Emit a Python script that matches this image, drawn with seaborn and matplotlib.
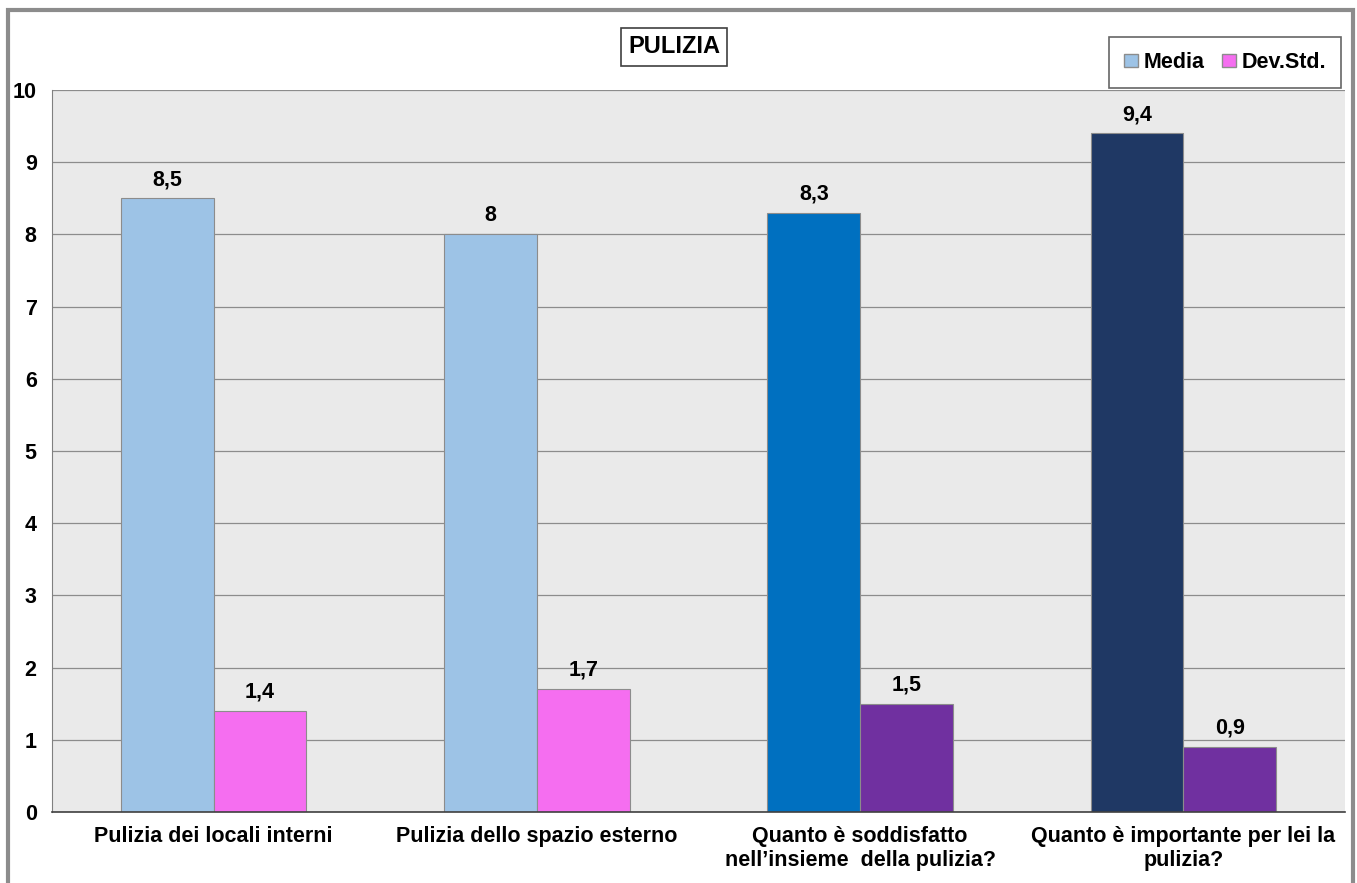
import matplotlib
matplotlib.use("Agg")
import matplotlib.pyplot as plt
import matplotlib.patches as mpatches
import seaborn as sns
import pandas as pd

# dati
categorie = [
    "Pulizia dei locali interni",
    "Pulizia dello spazio esterno",
    "Quanto è soddisfatto\nnell\u2019insieme  della pulizia?",
    "Quanto è importante per lei la\npulizia?",
]
media = [8.5, 8.0, 8.3, 9.4]
dev_std = [1.4, 1.7, 1.5, 0.9]
etichette_media = ["8,5", "8", "8,3", "9,4"]
etichette_dev = ["1,4", "1,7", "1,5", "0,9"]
serie = ["Media", "Dev.Std."]

col_media = ["#9DC3E6", "#9DC3E6", "#0070C0", "#1F3864"]
col_dev = ["#F56EF0", "#F56EF0", "#7030A0", "#7030A0"]

df = pd.DataFrame({
    "categoria": categorie * 2,
    "valore": media + dev_std,
    "serie": [serie[0]] * 4 + [serie[1]] * 4,
})

sns.set_style("white")
plt.rcParams["font.family"] = ["Liberation Sans", "DejaVu Sans"]
plt.rcParams["text.color"] = "black"
plt.rcParams["xtick.color"] = "black"
plt.rcParams["ytick.color"] = "black"

fs = 15.5

fig = plt.figure(figsize=(13.57, 8.83), dpi=100)
ax = fig.add_axes([0.0383, 0.0804, 0.9529, 0.8176])

sns.barplot(data=df, x="categoria", y="valore", hue="serie", order=categorie,
            hue_order=serie, width=0.574, gap=0, ax=ax, legend=False,
            edgecolor="#8C8C8C", linewidth=0.8, saturation=1)

# ricolora le barre
for bar, c in zip(ax.containers[0], col_media):
    bar.set_facecolor(c)
for bar, c in zip(ax.containers[1], col_dev):
    bar.set_facecolor(c)

ax.bar_label(ax.containers[0], labels=etichette_media, padding=6,
             fontsize=fs, fontweight="bold", color="black")
ax.bar_label(ax.containers[1], labels=etichette_dev, padding=6,
             fontsize=fs, fontweight="bold", color="black")

ax.set_facecolor("#EAEAEA")
ax.set_ylim(0, 10)
ax.set_xlim(-0.5, 3.5)
ax.set_yticks(range(0, 11))
ax.yaxis.grid(True, color="#8C8C8C", linewidth=0.9)
ax.set_axisbelow(True)
ax.set_xlabel("")
ax.set_ylabel("")
ax.set_xticks([-0.5, 0.5, 1.5, 2.5, 3.5], minor=True)
ax.tick_params(axis="x", which="major", length=0, pad=10)
ax.tick_params(axis="x", which="minor", length=6, color="#404040", direction="out")
ax.tick_params(axis="y", length=6, color="#404040", direction="out", pad=5)
for t in ax.get_xticklabels() + ax.get_yticklabels():
    t.set_fontweight("bold")
    t.set_fontsize(fs)

for s in ["top", "right"]:
    ax.spines[s].set_visible(False)
ax.spines["left"].set_color("#808080")
ax.spines["bottom"].set_color("#404040")
ax.spines["bottom"].set_linewidth(1.2)

# titolo con riquadro
fig.text(0.4967, 0.9468, "PULIZIA", ha="center", va="center", fontsize=17,
         fontweight="bold",
         bbox=dict(boxstyle="square,pad=0.3", facecolor="white", edgecolor="#404040", linewidth=1.2))

# legenda
handles = [mpatches.Patch(facecolor=col_media[0], edgecolor="#8C8C8C", label=serie[0]),
           mpatches.Patch(facecolor=col_dev[0], edgecolor="#8C8C8C", label=serie[1])]
leg = fig.legend(handles=handles, loc="upper right", bbox_to_anchor=(0.9882, 0.9581),
                 borderaxespad=0, ncol=2, frameon=True, fancybox=False,
                 handlelength=0.65, handleheight=0.56, handletextpad=0.23,
                 columnspacing=0.84, borderpad=0.7,
                 prop={"weight": "bold", "size": fs})
leg.get_frame().set_edgecolor("#404040")
leg.get_frame().set_linewidth(1.2)

# bordo esterno
fig.patches.append(mpatches.Rectangle((0.006, -0.01), 0.991, 0.999, transform=fig.transFigure,
                                      fill=False, edgecolor="#8C8C8C", linewidth=3))

fig.savefig("out.png", dpi=100, facecolor="white")
